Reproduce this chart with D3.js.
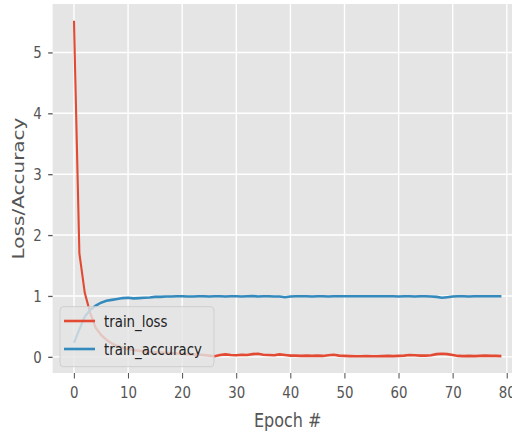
<!DOCTYPE html>
<html>
<head>
<meta charset="utf-8">
<script src="https://cdn.jsdelivr.net/npm/d3@7"></script>
<style>
  body { margin: 0; background: #fff; }
  svg { display: block; }
</style>
</head>
<body>
<svg id="chart"></svg>
<script>
// values
const epochs = d3.range(80)
const trainLoss = [
  5.52, 1.70, 1.05, 0.72, 0.48, 0.36, 0.28, 0.22, 0.18, 0.15,
  0.13, 0.11, 0.10, 0.09, 0.08, 0.075, 0.07, 0.065, 0.06, 0.055,
  0.05, 0.045, 0.04, 0.035, 0.03, 0.02, 0.01, 0.03, 0.04, 0.03,
  0.025, 0.035, 0.03, 0.045, 0.05, 0.035, 0.03, 0.025, 0.04, 0.03,
  0.02, 0.02, 0.015, 0.02, 0.015, 0.02, 0.015, 0.025, 0.035, 0.02,
  0.015, 0.012, 0.01, 0.01, 0.012, 0.01, 0.01, 0.012, 0.015, 0.012,
  0.015, 0.02, 0.03, 0.025, 0.02, 0.02, 0.025, 0.045, 0.05, 0.045,
  0.03, 0.015, 0.012, 0.015, 0.012, 0.015, 0.02, 0.015, 0.015, 0.012
]
const trainAccuracy = [
  0.23, 0.45, 0.66, 0.77, 0.84, 0.89, 0.92, 0.935, 0.95, 0.965,
  0.97, 0.96, 0.965, 0.97, 0.975, 0.985, 0.985, 0.99, 0.99, 0.995,
  0.995, 0.99, 0.99, 0.995, 0.995, 0.99, 0.995, 0.995, 0.99, 0.995,
  0.995, 0.99, 0.995, 1.0, 0.99, 0.995, 0.995, 0.99, 0.99, 0.98,
  0.99, 0.995, 0.995, 0.995, 0.99, 0.995, 0.995, 0.99, 0.995, 0.995,
  0.995, 0.995, 0.995, 0.995, 0.995, 0.995, 0.995, 0.995, 0.995, 0.995,
  0.99, 0.995, 0.995, 0.99, 0.995, 0.995, 0.99, 0.985, 0.97, 0.98,
  0.99, 0.995, 0.995, 0.99, 0.995, 0.995, 0.995, 0.995, 0.995, 0.995
]
const seriesNames = ['train_loss', 'train_accuracy']
const seriesColors = ['#E24A33', '#348ABD']
const xTicks = [0, 10, 20, 30, 40, 50, 60, 70, 80]
const yTicks = [0, 1, 2, 3, 4, 5]

// the picture is squeezed sideways, so draw wide and squash the viewBox
const W = 512, H = 434, SX = 0.8
const VW = W / SX
const px = (v) => v / SX

const svg = d3.select('#chart')
  .attr('width', W)
  .attr('height', H)
  .attr('viewBox', `0 0 ${VW} ${H}`)
  .attr('preserveAspectRatio', 'none')

const plot = {left: px(52.6), right: px(522.8), top: 4, bottom: 373}

const xPad = (d3.max(epochs) - d3.min(epochs)) * 0.05
const x = d3.scaleLinear()
  .domain([d3.min(epochs) - xPad, d3.max(epochs) + xPad])
  .range([plot.left, plot.right])

const allVals = trainLoss.concat(trainAccuracy)
const [yMin, yMax] = d3.extent(allVals)
const yPad = (yMax - yMin) * 0.05
const y = d3.scaleLinear()
  .domain([yMin - yPad, yMax + yPad])
  .range([plot.bottom, plot.top])

const font = 'DejaVu Sans, sans-serif'

svg.append('rect')
  .attr('x', plot.left)
  .attr('y', plot.top)
  .attr('width', plot.right - plot.left)
  .attr('height', plot.bottom - plot.top)
  .attr('fill', '#E5E5E5')

// grid
svg.append('g')
  .selectAll('line')
  .data(xTicks)
  .join('line')
  .attr('x1', (d) => x(d)).attr('x2', (d) => x(d))
  .attr('y1', plot.top).attr('y2', plot.bottom)
  .attr('stroke', '#fff')
  .attr('stroke-width', 1.7)

svg.append('g')
  .selectAll('line')
  .data(yTicks)
  .join('line')
  .attr('x1', plot.left).attr('x2', plot.right)
  .attr('y1', (d) => y(d)).attr('y2', (d) => y(d))
  .attr('stroke', '#fff')
  .attr('stroke-width', 1.4)

// axes
const xAxis = svg.append('g')
  .attr('transform', `translate(0,${plot.bottom})`)
  .call(d3.axisBottom(x).tickValues(xTicks).tickFormat(d3.format('d'))
    .tickSize(5.5).tickPadding(8))
const yAxis = svg.append('g')
  .attr('transform', `translate(${plot.left},0)`)
  .call(d3.axisLeft(y).tickValues(yTicks).tickFormat(d3.format('d'))
    .tickSize(5.5).tickPadding(8))

for (const ax of [xAxis, yAxis]) {
  ax.select('.domain').remove()
  ax.selectAll('.tick line').attr('stroke', '#555555').attr('stroke-width', 1.3)
  ax.selectAll('.tick text')
    .attr('fill', '#555555')
    .style('font-family', font)
    .style('font-size', '16.7px')
}

// lines
const line = d3.line()
  .x((d, i) => x(epochs[i]))
  .y((d) => y(d))

const series = [trainLoss, trainAccuracy]
svg.append('g')
  .selectAll('path')
  .data(series)
  .join('path')
  .attr('d', line)
  .attr('fill', 'none')
  .attr('stroke', (d, i) => seriesColors[i])
  .attr('stroke-width', 2.6)
  .attr('stroke-linejoin', 'round')

// axis labels
svg.append('text')
  .attr('x', (plot.left + plot.right) / 2)
  .attr('y', 427)
  .attr('text-anchor', 'middle')
  .attr('fill', '#555555')
  .style('font-family', font)
  .style('font-size', '20px')
  .text('Epoch #')

svg.append('text')
  .attr('transform', `translate(${px(24)},${(plot.top + plot.bottom) / 2}) rotate(-90)`)
  .attr('text-anchor', 'middle')
  .attr('fill', '#555555')
  .style('font-family', font)
  .style('font-size', '20px')
  .text('Loss/Accuracy')

// legend
const legend = svg.append('g')
legend.append('rect')
  .attr('x', px(60)).attr('y', 306.7)
  .attr('width', px(214) - px(60)).attr('height', 60)
  .attr('rx', 4).attr('ry', 4)
  .attr('fill', '#E5E5E5').attr('fill-opacity', 0.8)
  .attr('stroke', '#CCCCCC').attr('stroke-width', 1)

const rows = legend.selectAll('g.row')
  .data(seriesNames)
  .join('g')
  .attr('class', 'row')
  .attr('transform', (d, i) => `translate(0,${321 + i * 28})`)
rows.append('line')
  .attr('x1', px(64)).attr('x2', px(95))
  .attr('stroke', (d, i) => seriesColors[i])
  .attr('stroke-width', 2.6)
rows.append('text')
  .attr('x', px(104))
  .attr('dy', '0.35em')
  .attr('fill', '#222')
  .style('font-family', font)
  .style('font-size', '16.7px')
  .text((d) => d)
</script>
</body>
</html>
